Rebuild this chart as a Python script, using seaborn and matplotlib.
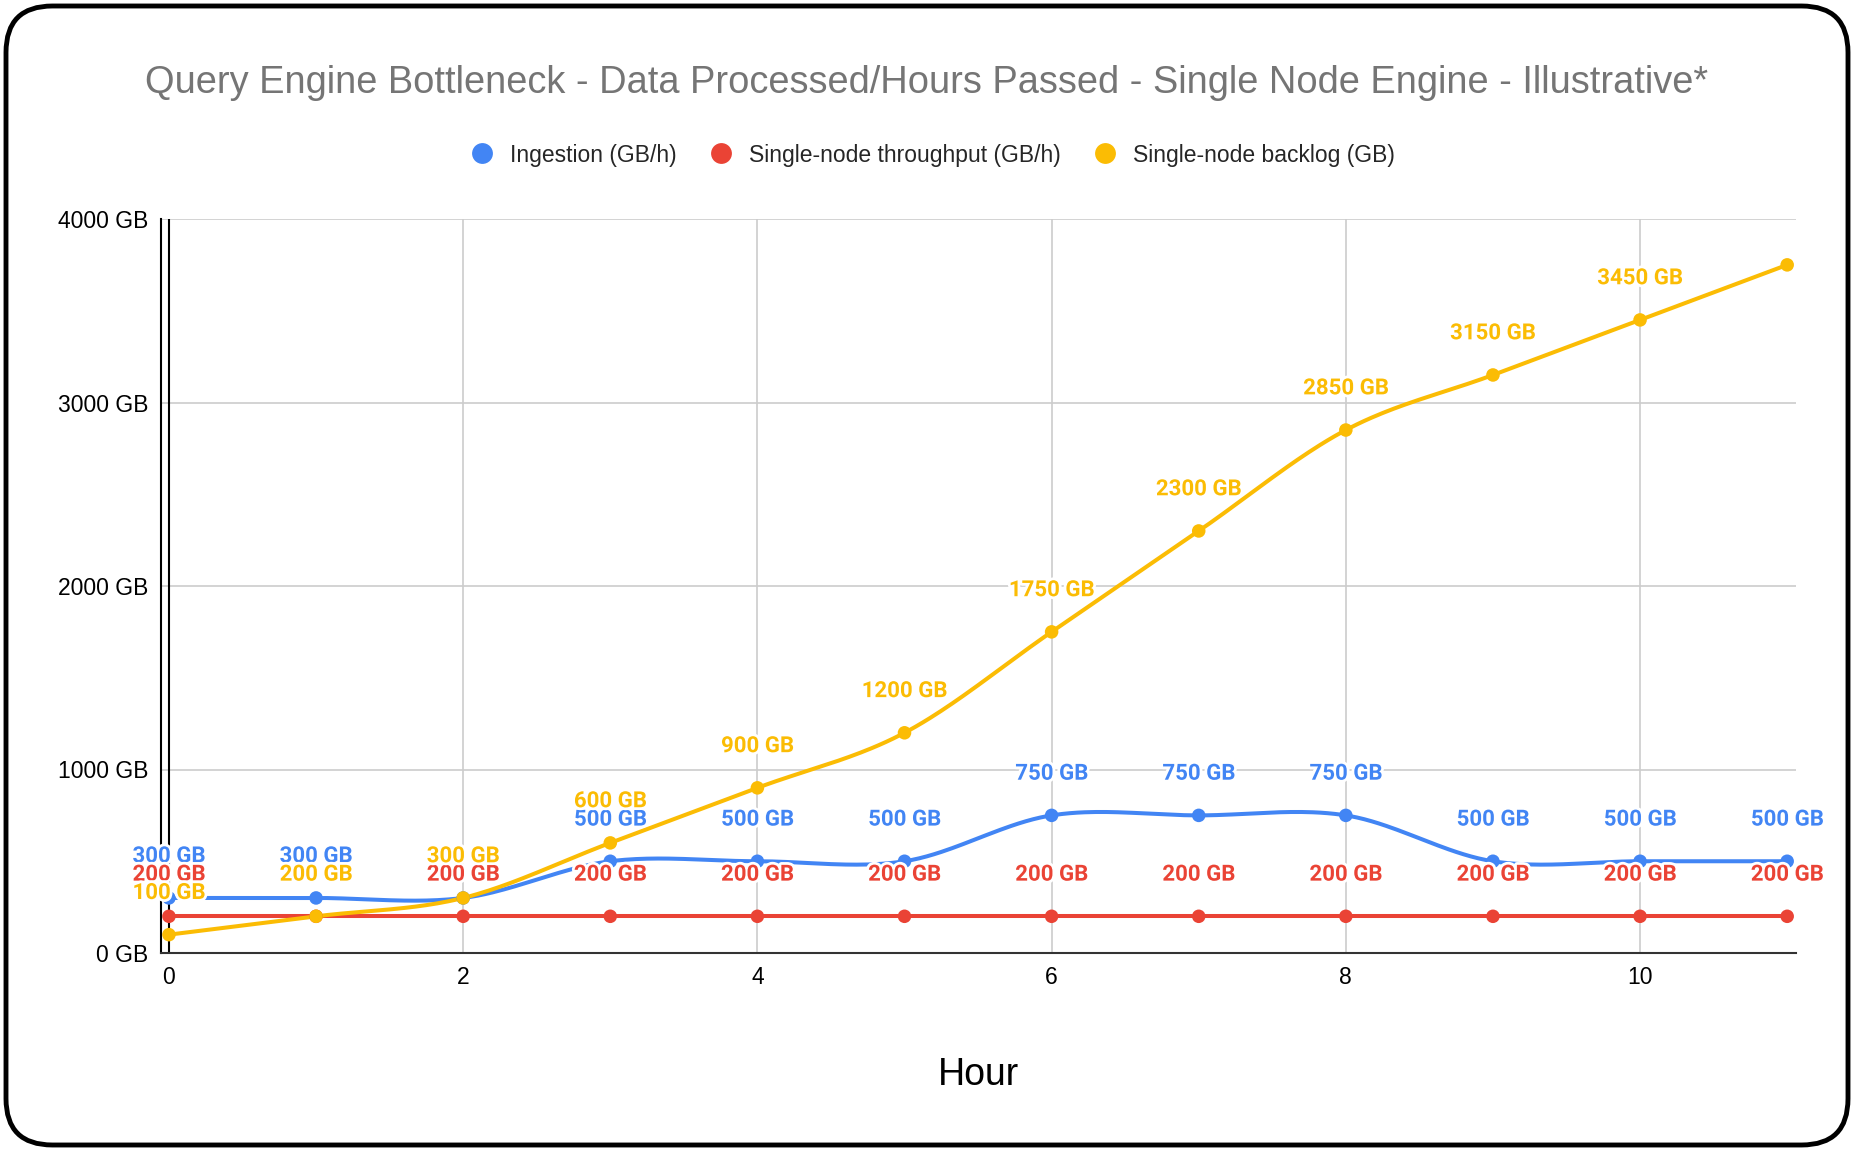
import numpy as np
import pandas as pd
import matplotlib
matplotlib.use("Agg")
import matplotlib.pyplot as plt
import matplotlib.patheffects as pe
from matplotlib.patches import FancyBboxPatch
from matplotlib.lines import Line2D
import seaborn as sns

# ---- data ----
hours = list(range(12))
ingestion = [300, 300, 300, 500, 500, 500, 750, 750, 750, 500, 500, 500]
throughput = [200] * 12
backlog = [100, 200, 300, 600, 900, 1200, 1750, 2300, 2850, 3150, 3450, 3750]
# hours that carry a data label, per series (last backlog point has none)
labelled_hours = [list(range(12)), list(range(12)), list(range(11))]
series_names = ["Ingestion (GB/h)", "Single-node throughput (GB/h)", "Single-node backlog (GB)"]
colors = ["#4285F4", "#EA4335", "#FBBC04"]
yticks = [0, 1000, 2000, 3000, 4000]
xticks = [0, 2, 4, 6, 8, 10]
title = "Query Engine Bottleneck - Data Processed/Hours Passed - Single Node Engine - Illustrative*"

sns.set_theme(style="white")
plt.rcParams["font.family"] = ["Liberation Sans", "DejaVu Sans"]
LABEL_FONT = ["Roboto", "DejaVu Sans"]


def catmull_rom(xs, ys, n=40):
    xs = np.asarray(xs, float)
    ys = np.asarray(ys, float)
    out_x, out_y = [], []
    for i in range(len(xs) - 1):
        p0 = ys[i - 1] if i > 0 else ys[i]
        p1, p2 = ys[i], ys[i + 1]
        p3 = ys[i + 2] if i + 2 < len(ys) else ys[i + 1]
        m1 = (p2 - p0) / 2 if i > 0 else (p2 - p1)
        m2 = (p3 - p1) / 2 if i + 2 < len(ys) else (p2 - p1)
        t = np.linspace(0, 1, n, endpoint=False)
        h00 = 2 * t**3 - 3 * t**2 + 1
        h10 = t**3 - 2 * t**2 + t
        h01 = -2 * t**3 + 3 * t**2
        h11 = t**3 - t**2
        out_y.extend(h00 * p1 + h10 * m1 + h01 * p2 + h11 * m2)
        out_x.extend(xs[i] + t * (xs[i + 1] - xs[i]))
    out_x.append(xs[-1])
    out_y.append(ys[-1])
    return np.array(out_x), np.array(out_y)


W, H = 1854, 1151
fig = plt.figure(figsize=(W / 100, H / 100), dpi=100)

# rounded frame
frame = FancyBboxPatch((6 / W, 6 / H), 1 - 12 / W, 1 - 12 / H,
                       boxstyle="round,pad=0,rounding_size=0.025",
                       transform=fig.transFigure, facecolor="none",
                       edgecolor="black", linewidth=3.5, zorder=10,
                       mutation_aspect=W / H)
fig.patches.append(frame)

ax = fig.add_axes([161 / W, 1 - 953 / H, (1796 - 161) / W, (953 - 219) / H])
ax.set_facecolor("none")

all_series = [ingestion, throughput, backlog]
for vals, col, name in zip(all_series, colors, series_names):
    sx, sy = catmull_rom(hours, vals)
    sns.lineplot(x=sx, y=sy, ax=ax, color=col, linewidth=2.9, zorder=3, sort=False)
    sns.scatterplot(x=hours, y=vals, ax=ax, color=col, s=95, edgecolor="none", zorder=4)

# data labels: skip label when a later series has the same value at that hour
for si, (vals, col) in enumerate(zip(all_series, colors)):
    for h in labelled_hours[si]:
        v = vals[h]
        if any(all_series[sj][h] == v and h in labelled_hours[sj] for sj in range(si + 1, 3)):
            continue
        ax.annotate(f"{v} GB", (h, v), xytext=(0, 30), textcoords="offset points",
                    ha="center", va="center", fontsize=16, fontweight="bold",
                    color=col, zorder=5, family=LABEL_FONT,
                    path_effects=[pe.withStroke(linewidth=4, foreground="white")])

ax.set_xlim(-0.054, 11.06)
ax.set_ylim(0, 4000)
ax.set_xticks(xticks)
ax.set_yticks(yticks)
ax.set_yticklabels([f"{v} GB" for v in yticks])
ax.tick_params(axis="both", length=0, labelsize=16.5, colors="black")
ax.tick_params(axis="y", pad=9)
ax.tick_params(axis="x", pad=9)
ax.grid(True, color="#cccccc", linewidth=1.2)
ax.set_axisbelow(True)
for s in ["top", "right"]:
    ax.spines[s].set_visible(False)
ax.spines["left"].set_color("black")
ax.spines["left"].set_linewidth(1.5)
ax.spines["bottom"].set_color("#333333")
ax.spines["bottom"].set_linewidth(1.5)
ax.axvline(0, color="black", linewidth=1.5, zorder=2)
ax.set_xlabel("")
ax.set_ylabel("")

fig.text(0.5, 1 - 83 / H, title, ha="center", va="center", fontsize=27.4, color="#757575")
fig.text((161 + 1796) / 2 / W, 1 - 1075 / H, "Hour", ha="center", va="center", fontsize=27, color="black")

handles = [Line2D([], [], marker="o", linestyle="none", markersize=15,
                  markerfacecolor=c, markeredgecolor="none") for c in colors]
fig.legend(handles, series_names, loc="center", bbox_to_anchor=(0.5, 1 - 155 / H),
           ncol=3, frameon=False, fontsize=16.5, handletextpad=0.25, columnspacing=0.9)

fig.savefig("out.png", dpi=100)
